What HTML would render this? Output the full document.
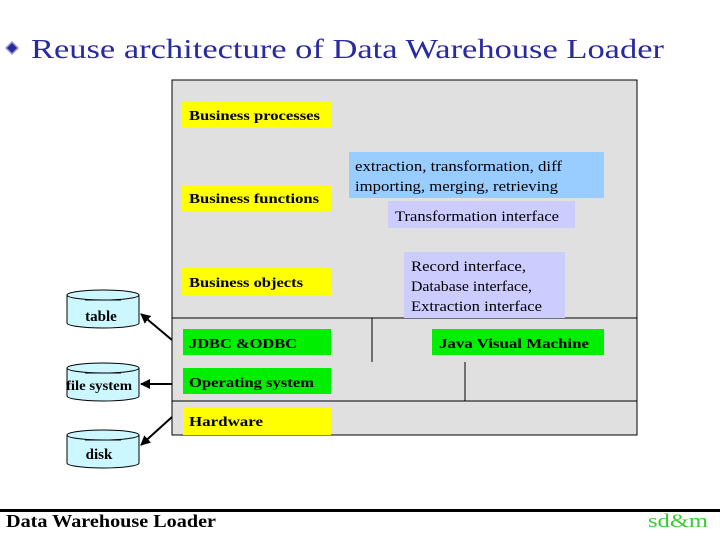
<!DOCTYPE html>
<html><head><meta charset="utf-8"><style>
html,body{margin:0;padding:0;background:#fff;}
svg{display:block;}
text{font-family:"Liberation Serif",serif;}
</style></head><body>
<svg width="720" height="540" viewBox="0 0 720 540" xmlns="http://www.w3.org/2000/svg">
<defs><marker id="ah" markerWidth="10" markerHeight="10" refX="9" refY="5" orient="auto" markerUnits="userSpaceOnUse"><path d="M0,0 L10,5 L0,10 z" fill="#000"/></marker></defs>
<polygon points="12,42 18,48 12,54 6,48" fill="#2a2a9a" stroke="#9999dd" stroke-width="1.5"/>
<text x="31" y="58" font-size="27" fill="#2a2aa0" textLength="633" lengthAdjust="spacingAndGlyphs">Reuse architecture of Data Warehouse Loader</text>
<rect x="172" y="80" width="465" height="355" fill="#e0e0e0" stroke="#000" stroke-width="1"/>
<line x1="172" y1="318" x2="637" y2="318" stroke="#000"/>
<line x1="172" y1="401" x2="637" y2="401" stroke="#000"/>
<line x1="372" y1="318" x2="372" y2="362" stroke="#000"/>
<line x1="465" y1="362" x2="465" y2="401" stroke="#000"/>
<g font-weight="bold" font-size="14">
<rect x="182" y="102" width="149" height="26" fill="#ffff00"/><text x="189" y="120" textLength="131" lengthAdjust="spacingAndGlyphs">Business processes</text>
<rect x="182" y="185" width="149" height="26" fill="#ffff00"/><text x="189" y="203" textLength="130" lengthAdjust="spacingAndGlyphs">Business functions</text>
<rect x="182" y="268" width="149" height="27" fill="#ffff00"/><text x="189" y="287" textLength="114" lengthAdjust="spacingAndGlyphs">Business objects</text>
<rect x="183" y="329" width="148" height="26" fill="#00ee00"/><text x="189" y="348" textLength="108" lengthAdjust="spacingAndGlyphs">JDBC &amp;ODBC</text>
<rect x="432" y="329" width="172" height="26" fill="#00ee00"/><text x="439" y="348" textLength="150" lengthAdjust="spacingAndGlyphs">Java Visual Machine</text>
<rect x="183" y="368" width="148" height="26" fill="#00ee00"/><text x="189" y="387" textLength="125" lengthAdjust="spacingAndGlyphs">Operating system</text>
<rect x="183" y="407" width="148" height="28" fill="#ffff00"/><text x="189" y="426" textLength="74" lengthAdjust="spacingAndGlyphs">Hardware</text>
</g>
<g font-size="15">
<rect x="349" y="152" width="255" height="46" fill="#99ccff"/>
<text x="355" y="171" textLength="207" lengthAdjust="spacingAndGlyphs">extraction, transformation, diff</text>
<text x="355" y="191" textLength="203" lengthAdjust="spacingAndGlyphs">importing, merging, retrieving</text>
<rect x="388" y="201" width="187" height="27" fill="#ccccff"/>
<text x="395" y="221" textLength="164" lengthAdjust="spacingAndGlyphs">Transformation interface</text>
<rect x="404" y="252" width="161" height="66" fill="#ccccff"/>
<text x="411" y="271" textLength="115" lengthAdjust="spacingAndGlyphs">Record interface,</text>
<text x="411" y="291" textLength="121" lengthAdjust="spacingAndGlyphs">Database interface,</text>
<text x="411" y="311" textLength="131" lengthAdjust="spacingAndGlyphs">Extraction interface</text>
</g>
<g stroke="#000" stroke-width="1" fill="#ccf7ff">
<path d="M67,295 L67,323 A36,5 0 0 0 139,323 L139,295"/><ellipse cx="103" cy="295" rx="36" ry="5"/>
<path d="M67,368 L67,396 A36,5 0 0 0 139,396 L139,368"/><ellipse cx="103" cy="368" rx="36" ry="5"/>
<path d="M67,435 L67,463 A36,5 0 0 0 139,463 L139,435"/><ellipse cx="103" cy="435" rx="36" ry="5"/>
</g>
<g stroke="#000" stroke-width="1">
<line x1="85" y1="300" x2="121" y2="300"/><line x1="85" y1="373" x2="121" y2="373"/><line x1="85" y1="440" x2="121" y2="440"/>
</g>
<g font-weight="bold" font-size="15" text-anchor="middle">
<text x="101" y="321">table</text>
<text x="99" y="390" font-size="14" textLength="66" lengthAdjust="spacingAndGlyphs">file system</text>
<text x="99" y="459">disk</text>
</g>
<g stroke="#000" stroke-width="2">
<line x1="172" y1="340" x2="141" y2="314" marker-end="url(#ah)"/>
<line x1="172" y1="384" x2="141" y2="384" marker-end="url(#ah)"/>
<line x1="172" y1="417" x2="141" y2="445" marker-end="url(#ah)"/>
</g>
<rect x="0" y="509" width="720" height="3" fill="#000"/>
<text x="6" y="527" font-size="18" font-weight="bold" textLength="210" lengthAdjust="spacingAndGlyphs">Data Warehouse Loader</text>
<text x="648" y="527" font-size="19" fill="#33cc33" textLength="60" lengthAdjust="spacingAndGlyphs">sd&amp;m</text>
</svg>
</body></html>
